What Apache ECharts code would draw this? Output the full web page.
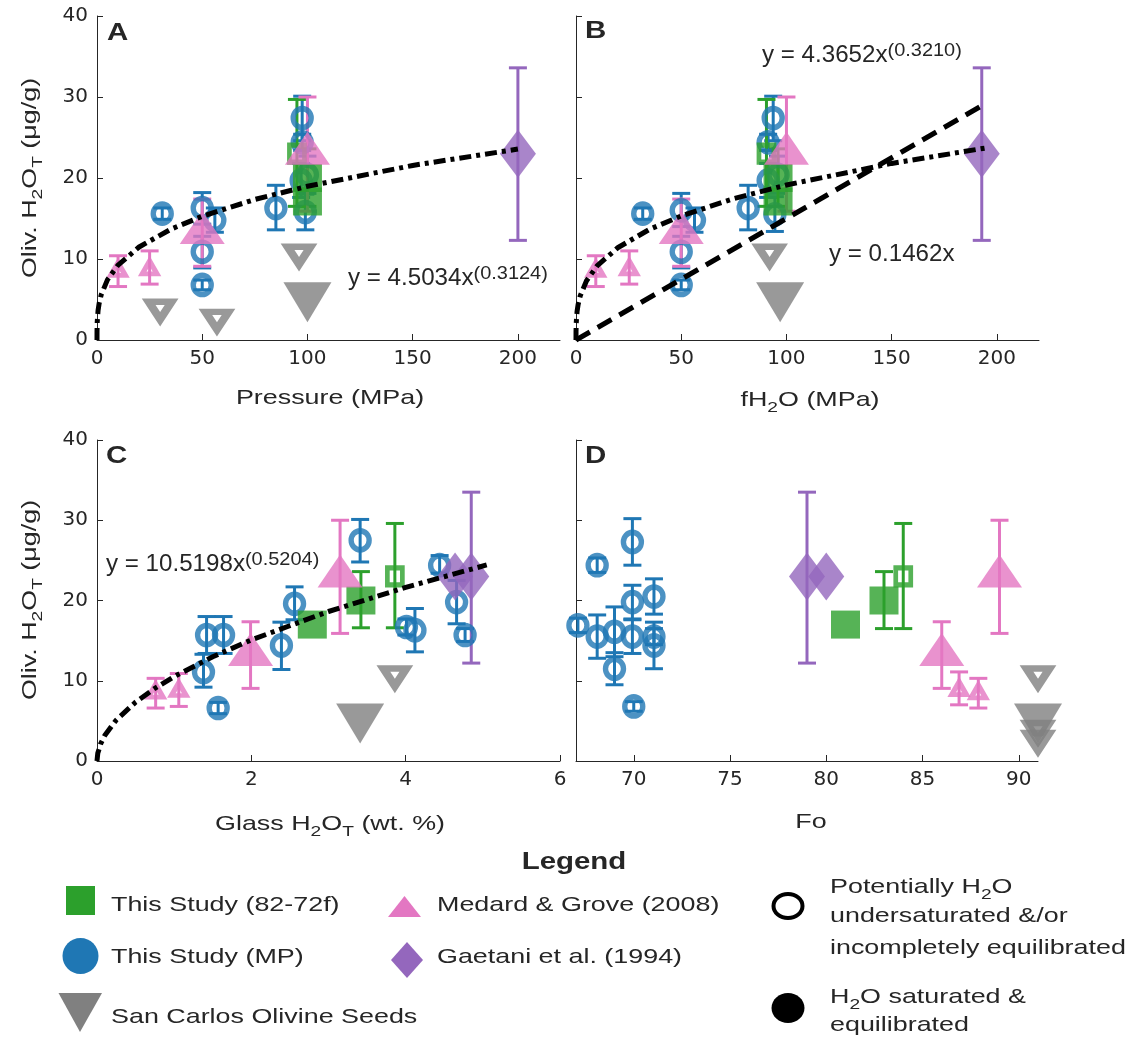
<!DOCTYPE html>
<html>
<head>
<meta charset="utf-8">
<script src="https://cdn.jsdelivr.net/npm/echarts@6/dist/echarts.min.js"></script>
<style>
  html, body { margin: 0; padding: 0; background: #fff; }
  #chart { width: 1141px; height: 1044px; }
</style>
</head>
<body>
<div id="chart"></div>
<script>
// rows are [x, H2O (ug/g), error low, error high]; null error = no bar

// A: pressure (MPa)
const aBlue = [[31, 15.6, 14.9, 16.3], [50, 16.3, 14.3, 18.2], [56, 14.8, 13.3, 16.3], [50, 10.9, 8.9, 12.8],
  [50, 6.8, 6.2, 7.4], [85, 16.3, 13.6, 19.1], [97.5, 27.4, 24.6, 30.1], [97.5, 24.4, 23.4, 25.4],
  [97, 19.7, 17.6, 21.8], [100, 20.4, 18.1, 22.7], [99, 15.8, 13.6, 18.0]];
const aGreenFill = [[100, 17.1, null, null], [100, 20.0, 16.5, 23.6]];
const aGreenOpen = [[95, 23.0, 16.5, 29.7]];
const aPinkFill = [[50, 13.2, 9.1, 17.4], [100, 23.0, 15.9, 30.0]];
const aPinkOpen = [[10, 8.5, 6.6, 10.4], [25, 8.7, 6.9, 11.0]];
const aPurple = [[200, 23.0, 12.3, 33.6]];
const aGrayFill = [[100, 5.5, null, null]];
const aGrayOpen = [[30, 4.0, null, null], [57, 2.75, null, null], [96, 10.8, null, null]];

// B: fH2O (MPa)
const bBlue = [[31.7, 15.6, 14.9, 16.3], [50, 16.0, 14.0, 18.1], [56.3, 14.8, 13.3, 16.3], [50, 10.9, 8.9, 12.8],
  [50, 6.8, 6.2, 7.4], [81.8, 16.3, 13.6, 19.1], [93.7, 27.4, 24.6, 30.1], [91.3, 24.4, 23.4, 25.4],
  [91.3, 19.7, 17.6, 21.8], [96, 20.4, 18.1, 22.7], [94.5, 15.5, 13.4, 17.7]];
const bGreenFill = [[96, 17.1, null, null], [96, 20.0, 16.5, 23.6]];
const bGreenOpen = [[90.5, 23.0, 16.5, 29.7]];
const bPinkFill = [[50, 13.2, 9.1, 17.4], [100, 23.0, 15.9, 30.0]];
const bPinkOpen = [[9.4, 8.5, 6.6, 10.4], [25.3, 8.7, 6.9, 11.0]];
const bPurple = [[192.8, 23.0, 12.3, 33.6]];
const bGrayFill = [[97, 5.5, null, null]];
const bGrayOpen = [[92, 10.8, null, null]];

// C: glass H2O (wt. %)
const cBlue = [[1.42, 15.7, 13.4, 18.0], [1.64, 15.7, 13.4, 18.0], [1.38, 11.1, 9.2, 13.3], [1.57, 6.6, 5.9, 7.3],
  [2.39, 14.4, 11.4, 17.3], [2.56, 19.6, 17.6, 21.7], [3.41, 27.5, 24.8, 30.1], [4.01, 16.7, 15.7, 17.7],
  [4.12, 16.3, 13.6, 19.0], [4.44, 24.4, 23.4, 25.6], [4.66, 19.8, 17.1, 22.5], [4.77, 15.7, 14.9, 16.5]];
const cGreenFill = [[2.79, 17.0, null, null], [3.42, 20.0, 16.6, 23.6]];
const cGreenOpen = [[3.86, 23.0, 16.6, 29.6]];
const cPinkFill = [[1.99, 13.2, 9.05, 17.35], [3.15, 23.0, 15.9, 30.0]];
const cPinkOpen = [[0.76, 8.5, 6.6, 10.3], [1.06, 8.7, 6.8, 10.9]];
const cPurple = [[4.64, 23.0, null, null], [4.85, 23.0, 12.2, 33.5]];
const cGrayFill = [[3.41, 5.5, null, null]];
const cGrayOpen = [[3.86, 10.8, null, null]];

// D: Fo
const dBlue = [[69.93, 27.3, 24.4, 30.2], [68.1, 24.4, 23.5, 25.3], [67.1, 16.9, 16.0, 17.8], [68.1, 15.5, 12.8, 18.2],
  [69.0, 16.1, 13.0, 19.2], [69.0, 11.5, 9.5, 13.5], [69.93, 19.8, 17.7, 21.9], [69.93, 15.5, 13.4, 17.6],
  [71.05, 20.5, 18.3, 22.7], [71.05, 15.5, 14.5, 16.5], [71.05, 14.4, 11.5, 17.3], [70.0, 6.8, 6.2, 7.4]];
const dGreenFill = [[81.0, 17.0, null, null], [83.0, 20.0, 16.5, 23.6]];
const dGreenOpen = [[84.0, 23.0, 16.5, 29.6]];
const dPinkFill = [[86.0, 13.2, 9.05, 17.35], [89.0, 23.0, 15.9, 30.0]];
const dPinkOpen = [[86.9, 8.8, 7.0, 11.1], [87.9, 8.4, 6.6, 10.3]];
const dPurple = [[79.0, 23.0, 12.2, 33.5], [80.0, 23.0, null, null]];
const dGrayFill = [[91, 5.5, null, null]];
const dGrayOpen = [[91, 10.8, null, null], [91, 4.0, null, null], [91, 2.75, null, null]];

// fitted curves
const fitAx = [0, 0.01, 0.1, 0.5, 1, 2, 5, 10, 20, 35, 50, 75, 100, 150, 200];
const fitAy = [0, 1.07, 2.19, 3.63, 4.50, 5.59, 7.45, 9.25, 11.48, 13.67, 15.28, 17.35, 18.98, 21.55, 23.57];
const fitBx = [0, 0.01, 0.1, 0.5, 1, 2, 5, 10, 20, 35, 50, 75, 100, 150, 195];
const fitBy = [0, 1.0, 2.08, 3.49, 4.37, 5.45, 7.32, 9.14, 11.42, 13.67, 15.32, 17.45, 19.14, 21.80, 23.72];
const linBx = [0, 192];
const linBy = [0, 28.8];
const fitCx = [0, 0.01, 0.05, 0.1, 0.25, 0.5, 0.75, 1, 1.5, 2, 3, 4, 5.05];
const fitCy = [0, 0.96, 2.21, 3.17, 5.11, 7.33, 9.06, 10.52, 12.99, 15.09, 18.63, 21.64, 24.43];

// tick labels
const pressureTicks = [0, 50, 100, 150, 200];
const glassTicks = [0, 2, 4, 6];
const foTicks = [70, 75, 80, 85, 90];
const h2oTicks = [0, 10, 20, 30, 40];

const GREEN = '#2ca02c', BLUE = '#1f77b4', PINK = '#e377c2', PURPLE = '#9467bd', GRAY = '#808080';
const INK = '#262626';
const FONT = '"Liberation Sans", Arial, sans-serif';
const K = 1.28; // text in the figure is set wide
const DOWN = 'path://M0,0L2,0L1,2Z';

// marker looks (size in px, open = stroke width, dy = centroid shift for triangles)
const MK = {
  greenFill: { color: GREEN, symbol: 'rect', size: [29, 28] },
  greenOpen: { color: GREEN, symbol: 'rect', size: [15, 17], open: 5 },
  blue: { color: BLUE, symbol: 'circle', size: [18, 19], open: 5.5 },
  pinkFill: { color: PINK, symbol: 'triangle', size: [45, 33], dy: -5.5 },
  pinkOpen: { color: PINK, symbol: 'triangle', size: [14.7, 12.8], open: 5, dy: -2.1 },
  purple: { color: PURPLE, symbol: 'diamond', size: [36, 48] },
  grayFill: { color: GRAY, symbol: DOWN, size: [48, 40], dy: 6.7 },
  grayOpen: { color: GRAY, symbol: DOWN, size: [23, 17.5], open: 7.4, dy: 2.9 }
};

const series = [];

function addGroup(gi, rows, mk) {
  const bars = rows.filter(function (r) { return r[2] != null; }).map(function (r) { return [r[0], r[2], r[3]]; });
  if (bars.length) {
    series.push({
      type: 'custom', xAxisIndex: gi, yAxisIndex: gi, silent: true, data: bars,
      renderItem: function (params, api) {
        const lo = api.coord([api.value(0), api.value(1)]);
        const hi = api.coord([api.value(0), api.value(2)]);
        const w = 9;
        const st = { stroke: mk.color, lineWidth: 3 };
        return {
          type: 'group', children: [
            { type: 'line', shape: { x1: lo[0], y1: lo[1], x2: hi[0], y2: hi[1] }, style: st },
            { type: 'line', shape: { x1: lo[0] - w, y1: lo[1], x2: lo[0] + w, y2: lo[1] }, style: st },
            { type: 'line', shape: { x1: hi[0] - w, y1: hi[1], x2: hi[0] + w, y2: hi[1] }, style: st }
          ]
        };
      }
    });
  }
  series.push({
    type: 'scatter', xAxisIndex: gi, yAxisIndex: gi, silent: true, clip: false,
    data: rows.map(function (r) { return [r[0], r[1]]; }),
    symbol: mk.symbol, symbolSize: mk.size, symbolOffset: [0, mk.dy || 0],
    itemStyle: mk.open
      ? { color: 'rgba(0,0,0,0)', borderColor: mk.color, borderWidth: mk.open }
      : { color: mk.color }
  });
}

function addPanel(gi, blue, gFill, gOpen, pFill, pOpen, purple, grFill, grOpen) {
  addGroup(gi, blue, MK.blue);
  addGroup(gi, gFill, MK.greenFill);
  addGroup(gi, gOpen, MK.greenOpen);
  addGroup(gi, pFill, MK.pinkFill);
  addGroup(gi, pOpen, MK.pinkOpen);
  addGroup(gi, purple, MK.purple);
  addGroup(gi, grOpen, MK.grayOpen);
  addGroup(gi, grFill, MK.grayFill);
}

addPanel(0, aBlue, aGreenFill, aGreenOpen, aPinkFill, aPinkOpen, aPurple, aGrayFill, aGrayOpen);
addPanel(1, bBlue, bGreenFill, bGreenOpen, bPinkFill, bPinkOpen, bPurple, bGrayFill, bGrayOpen);
addPanel(2, cBlue, cGreenFill, cGreenOpen, cPinkFill, cPinkOpen, cPurple, cGrayFill, cGrayOpen);
addPanel(3, dBlue, dGreenFill, dGreenOpen, dPinkFill, dPinkOpen, dPurple, dGrayFill, dGrayOpen);

function addFit(gi, xs, ys, dash) {
  series.push({
    type: 'line', xAxisIndex: gi, yAxisIndex: gi, silent: true, clip: false,
    showSymbol: false, symbol: 'none', z: 5,
    data: xs.map(function (x, i) { return [x, ys[i]]; }),
    lineStyle: { color: '#000', width: 5, type: dash, cap: 'butt' }
  });
}
const DASHDOT = [12, 5, 4, 5];
addFit(0, fitAx, fitAy, DASHDOT);
addFit(1, fitBx, fitBy, DASHDOT);
addFit(1, linBx, linBy, [16, 9]);
addFit(2, fitCx, fitCy, DASHDOT);

function xAxisOf(gi, min, max, ticks) {
  return {
    type: 'value', gridIndex: gi, min: min, max: max,
    axisLine: { show: true, onZero: false, lineStyle: { color: INK, width: 1 } },
    axisTick: { show: true, inside: true, length: 6, customValues: ticks, lineStyle: { color: INK } },
    axisLabel: { customValues: ticks, color: INK, fontFamily: 'DejaVu Sans', fontSize: 20, margin: 9 },
    splitLine: { show: false }
  };
}
function yAxisOf(gi, labels) {
  return {
    type: 'value', gridIndex: gi, min: 0, max: 40,
    axisLine: { show: true, onZero: false, lineStyle: { color: INK, width: 1 } },
    axisTick: { show: true, inside: true, length: 6, customValues: h2oTicks, lineStyle: { color: INK } },
    axisLabel: { show: labels, customValues: h2oTicks, color: INK, fontFamily: 'DejaVu Sans', fontSize: 20, margin: 9 },
    splitLine: { show: false }
  };
}

const RICH = {
  sub: { fontSize: 15, fontFamily: FONT, fill: INK, lineHeight: 14, verticalAlign: 'bottom' },
  sup: { fontSize: 19, fontFamily: FONT, fill: INK, lineHeight: 16, verticalAlign: 'top' },
  m: { fontSize: 23, fontFamily: FONT, fill: INK, lineHeight: 30, verticalAlign: 'middle' },
  t: { fontSize: 21, fontFamily: FONT, fill: INK, lineHeight: 30, verticalAlign: 'middle' }
};

function txt(x, y, text, o) {
  o = o || {};
  return {
    type: 'text', x: x, y: y, rotation: o.rot || 0, scaleX: o.k || K, scaleY: 1, silent: true,
    style: {
      text: text, fill: o.fill || INK,
      font: (o.bold ? 'bold ' : '') + (o.size || 21) + 'px ' + FONT,
      textAlign: o.align || 'left', textVerticalAlign: 'middle', rich: RICH
    }
  };
}

const yTitle = '{t|Oliv. H}{sub|2}{t|O}{sub|T}{t| (μg/g)}';
const graphics = [
  // panel letters
  txt(107, 34, 'A', { bold: true, size: 23 }),
  txt(585, 32, 'B', { bold: true, size: 23 }),
  txt(106, 457, 'C', { bold: true, size: 23 }),
  txt(585, 457, 'D', { bold: true, size: 23 }),
  // fit equations
  txt(348, 279, '{m|y = 4.5034x}{sup|(0.3124)}', { k: 1.05 }),
  txt(762, 56, '{m|y = 4.3652x}{sup|(0.3210)}', { k: 1.05 }),
  txt(829, 255, '{m|y = 0.1462x}', { k: 1.05 }),
  txt(106, 565, '{m|y = 10.5198x}{sup|(0.5204)}', { k: 1.05 }),
  // axis titles
  txt(30, 178, yTitle, { align: 'center', rot: Math.PI / 2 }),
  txt(30, 600, yTitle, { align: 'center', rot: Math.PI / 2 }),
  txt(330, 398, 'Pressure (MPa)', { align: 'center' }),
  txt(810, 400, '{t|fH}{sub|2}{t|O (MPa)}', { align: 'center' }),
  txt(330, 824, '{t|Glass H}{sub|2}{t|O}{sub|T}{t| (wt. %)}', { align: 'center' }),
  txt(811, 822, 'Fo', { align: 'center' }),
  // legend
  txt(574, 863, 'Legend', { bold: true, size: 23, align: 'center' }),
  { type: 'rect', silent: true, shape: { x: 66, y: 886, width: 29, height: 29 }, style: { fill: GREEN } },
  { type: 'ellipse', silent: true, shape: { cx: 80.5, cy: 956, rx: 18, ry: 18 }, style: { fill: BLUE } },
  { type: 'polygon', silent: true, shape: { points: [[58.5, 993], [102, 993], [80, 1032]] }, style: { fill: GRAY } },
  { type: 'polygon', silent: true, shape: { points: [[388, 917], [421, 917], [404.5, 896]] }, style: { fill: PINK } },
  { type: 'polygon', silent: true, shape: { points: [[407, 942], [423, 960], [407, 978], [391, 960]] }, style: { fill: PURPLE } },
  { type: 'ellipse', silent: true, shape: { cx: 788, cy: 906, rx: 14.5, ry: 12 }, style: { fill: 'none', stroke: '#000', lineWidth: 4 } },
  { type: 'ellipse', silent: true, shape: { cx: 788, cy: 1008, rx: 16.5, ry: 15 }, style: { fill: '#000' } },
  txt(111, 905, 'This Study (82-72f)'),
  txt(111, 957, 'This Study (MP)'),
  txt(111, 1017, 'San Carlos Olivine Seeds'),
  txt(437, 905, 'Medard & Grove (2008)'),
  txt(437, 957, 'Gaetani et al. (1994)'),
  txt(830, 887, '{t|Potentially H}{sub|2}{t|O}'),
  txt(830, 916, 'undersaturated &/or'),
  txt(830, 948, 'incompletely equilibrated'),
  txt(830, 997, '{t|H}{sub|2}{t|O saturated &}'),
  txt(830, 1025, 'equilibrated')
];

const chart = echarts.init(document.getElementById('chart'));
chart.setOption({
  animation: false,
  backgroundColor: '#fff',
  grid: [
    { left: 97, top: 16, width: 463, height: 324 },
    { left: 576, top: 16, width: 463, height: 324 },
    { left: 97, top: 440, width: 463, height: 321 },
    { left: 576, top: 440, width: 462, height: 321 }
  ],
  xAxis: [
    xAxisOf(0, 0, 220, pressureTicks),
    xAxisOf(1, 0, 220, pressureTicks),
    xAxisOf(2, 0, 6, glassTicks),
    xAxisOf(3, 67, 91, foTicks)
  ],
  yAxis: [yAxisOf(0, true), yAxisOf(1, false), yAxisOf(2, true), yAxisOf(3, false)],
  graphic: graphics,
  series: series
});
</script>
</body>
</html>
